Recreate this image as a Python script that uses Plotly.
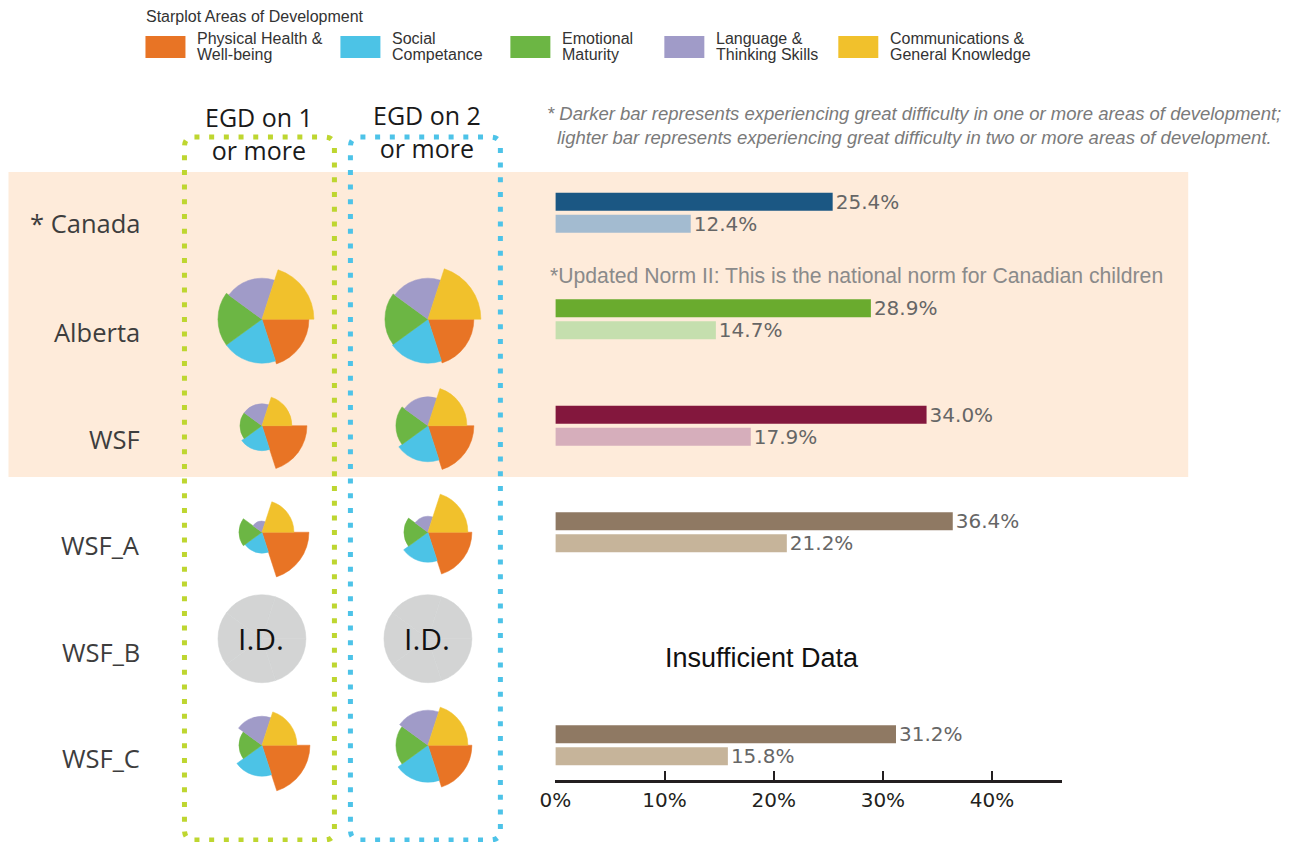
import plotly.graph_objects as go

OFF = 8
W, H = 1303 - 2 * OFF, 850 - 2 * OFF
# empirical horizontal correction of the rendered page
XA, XS = 15.6, 0.9878

# ---------------- data ----------------
rows = ["Canada", "Alberta", "WSF", "WSF_A", "WSF_B", "WSF_C"]
row_labels = ["* Canada", "Alberta", "WSF", "WSF_A", "WSF_B", "WSF_C"]
egd1_pct = [25.4, 28.9, 34.0, 36.4, None, 31.2]
egd2_pct = [12.4, 14.7, 17.9, 21.2, None, 15.8]
dark_colors = ["#1B5783", "#6AAB2E", "#83173D", "#8F7963", "#8F7963", "#8F7963"]
light_colors = ["#A3BBD0", "#C5DFAE", "#D6AEBB", "#C6B49A", "#C6B49A", "#C6B49A"]

areas = ["Physical Health & Well-being", "Social Competance", "Emotional Maturity",
         "Language & Thinking Skills", "Communications & General Knowledge"]
area_lines = [("Physical Health &", "Well-being"), ("Social", "Competance"), ("Emotional", "Maturity"),
              ("Language &", "Thinking Skills"), ("Communications &", "General Knowledge")]
area_colors = ["#E87425", "#4CC3E6", "#6CB644", "#A09BC8", "#F1C12C"]

star_regions = ["Alberta", "WSF", "WSF_A", "WSF_B", "WSF_C"]
star_egd1 = [[47, 44, 44, 41, 52],
             [45, 25, 22, 22, 30],
             [47, 21, 23, 11, 32],
             None,
             [48, 31, 23, 29, 35]]
star_egd2 = [[46, 44, 43, 41, 53],
             [46, 36, 32, 29, 39],
             [44, 30, 24, 16, 40],
             None,
             [44, 37, 32, 35, 40]]
id_radius = 44
x_ticks = [0, 10, 20, 30, 40]
x_tick_labels = ["0%", "10%", "20%", "30%", "40%"]

def px(x):
    return ((x - XA) / XS - OFF) / W

def py(y):
    return 1 - (y - OFF) / H

AX_LEFT, AX_RIGHT = 555, 1062
AX_TOP, AX_BOTTOM = 180, 780
ROW0, STEP = 212.7, 106.5
y_top = -(ROW0 - AX_TOP) / STEP
y_bot = (AX_BOTTOM - ROW0) / STEP
x_max = (AX_RIGHT - AX_LEFT) / 10.92

def row_y(i):
    return ROW0 + i * STEP

fig = go.Figure()

for vals, cols, nm in [(egd1_pct, dark_colors, "EGD on 1 or more"), (egd2_pct, light_colors, "EGD on 2 or more")]:
    fig.add_trace(go.Bar(
        y=rows, x=vals, orientation="h", name=nm,
        marker=dict(color=cols, line=dict(width=0)),
        texttemplate="%{x:.1f}%", textposition="outside", constraintext="none",
        cliponaxis=False,
        textfont=dict(family="DejaVu Sans", size=20, color="#666666"),
        showlegend=False, hoverinfo="skip"))

layout_polars = {}
BOX = 56
col_x = [261.5, 427.5]
pidx = 0
for ri, region in enumerate(star_regions):
    i = rows.index(region)
    cy = row_y(i)
    for ci, star in enumerate([star_egd1[ri], star_egd2[ri]]):
        pidx += 1
        key = "polar" if pidx == 1 else f"polar{pidx}"
        cx = col_x[ci]
        if star is None:
            r = [id_radius] * len(areas)
            cols = ["#D3D4D4"] * len(areas)
        else:
            r = star
            cols = area_colors
        fig.add_trace(go.Barpolar(
            r=r, theta=areas, subplot=key,
            marker=dict(color=cols, line=dict(color=cols, width=0.5)),
            showlegend=False, hoverinfo="skip"))
        layout_polars[key] = dict(
            domain=dict(x=[px(cx - BOX), px(cx + BOX)], y=[py(cy + BOX), py(cy - BOX)]),
            bgcolor="rgba(0,0,0,0)",
            radialaxis=dict(range=[0, BOX], visible=False),
            angularaxis=dict(type="category", categoryarray=areas, direction="clockwise",
                             rotation=-36, visible=False),
            bargap=0, barmode="overlay")

shapes = []
shapes.append(dict(type="rect", xref="paper", yref="paper", x0=px(8), x1=px(1188),
                   y0=py(477), y1=py(172), fillcolor="#FEEBDA", line=dict(width=0),
                   layer="below"))

def rounded(x0, y0, x1, y1, rr):
    def P(x, y):
        return f"{px(x):.5f},{py(y):.5f}"
    return (f"M {P(x0 + rr, y0)} L {P(x1 - rr, y0)} Q {P(x1, y0)} {P(x1, y0 + rr)} "
            f"L {P(x1, y1 - rr)} Q {P(x1, y1)} {P(x1 - rr, y1)} L {P(x0 + rr, y1)} "
            f"Q {P(x0, y1)} {P(x0, y1 - rr)} L {P(x0, y0 + rr)} Q {P(x0, y0)} {P(x0 + rr, y0)} Z")

shapes.append(dict(type="path", xref="paper", yref="paper", path=rounded(184, 137, 334, 840, 10),
                   line=dict(color="#BED630", width=5, dash="5px,9.7px"), layer="above"))
shapes.append(dict(type="path", xref="paper", yref="paper", path=rounded(350, 137, 500, 840, 10),
                   line=dict(color="#4DC3E8", width=5, dash="5px,9.7px"), layer="above"))

annotations = []
annotations.append(dict(x=px(144), y=py(16), xref="paper", yref="paper", xanchor="left", yanchor="middle",
                        text="Starplot Areas of Development", showarrow=False,
                        font=dict(family="Liberation Sans", size=16, color="#333333")))
leg_x = [145, 340, 510, 664, 838]
for lx, lines, col in zip(leg_x, area_lines, area_colors):
    shapes.append(dict(type="rect", xref="paper", yref="paper", x0=px(lx), x1=px(lx + 40),
                       y0=py(58), y1=py(36), fillcolor=col, line=dict(width=0)))
    for ly, t in zip([38, 55], lines):
        annotations.append(dict(x=px(lx + 50), y=py(ly), xref="paper", yref="paper", xanchor="left",
                                yanchor="middle", align="left", text=t, showarrow=False,
                                font=dict(family="Liberation Sans", size=16, color="#333333")))

for cx, cy in [(259, 134), (427, 132)]:
    annotations.append(dict(x=px(cx), y=py(cy), xref="paper", yref="paper",
                            xanchor="center", yanchor="middle",
                            text=("EGD on 1" if cx < 300 else "EGD on 2") + "<br>or more", showarrow=False,
                            font=dict(family="Open Sans", size=25, color="#1a1a1a")))

for rname, lab in zip(rows, row_labels):
    annotations.append(dict(x=px(142), y=rname, xref="paper", yref="y",
                            yshift=-13 if rname != "Canada" else -10,
                            xanchor="right", yanchor="middle", text=lab, showarrow=False,
                            font=dict(family="Open Sans", size=25.5, color="#3d3d3d")))

for cx in col_x:
    annotations.append(dict(x=px(cx - 1), y=py(row_y(rows.index("WSF_B"))), xref="paper", yref="paper",
                            xanchor="center", yanchor="middle", text="I.D.", showarrow=False,
                            font=dict(family="Open Sans", size=30, color="#111111")))

annotations.append(dict(x=px(545), y=py(114), xref="paper", yref="paper", xanchor="left", yanchor="middle",
                        text="<i>* Darker bar represents experiencing great difficulty in one or more areas of development;</i>",
                        showarrow=False, font=dict(family="Liberation Sans", size=18.5, color="#7a7a7a")))
annotations.append(dict(x=px(555), y=py(137), xref="paper", yref="paper", xanchor="left", yanchor="middle",
                        text="<i>lighter bar represents experiencing great difficulty in two or more areas of development.</i>",
                        showarrow=False, font=dict(family="Liberation Sans", size=18.5, color="#7a7a7a")))
annotations.append(dict(x=px(548), y=py(276), xref="paper", yref="paper", xanchor="left", yanchor="middle",
                        text="*Updated Norm II: This is the national norm for Canadian children",
                        showarrow=False, font=dict(family="Liberation Sans", size=21.2, color="#8a8a8a")))
annotations.append(dict(x=px(762), y="WSF_B", xref="paper", yref="y", yshift=-19, xanchor="center",
                        yanchor="middle", text="Insufficient Data", showarrow=False,
                        font=dict(family="Liberation Sans", size=27, color="#111111")))

fig.update_layout(
    width=W, height=H, autosize=False,
    margin=dict(l=0, r=0, t=0, b=0),
    paper_bgcolor="white", plot_bgcolor="rgba(0,0,0,0)",
    barmode="group", bargap=1 - 44 / STEP, bargroupgap=4 / 22,
    xaxis=dict(domain=[px(AX_LEFT), px(AX_RIGHT)], range=[0, x_max], tickmode="array",
               tickvals=x_ticks, ticktext=x_tick_labels,
               showgrid=False, zeroline=False, showline=True, linecolor="#231F20",
               linewidth=3, ticks="inside", ticklen=9, tickwidth=2, tickcolor="#231F20",
               tickfont=dict(family="DejaVu Sans", size=20, color="#231F20"), fixedrange=True),
    yaxis=dict(domain=[py(AX_BOTTOM), py(AX_TOP)], range=[y_bot, y_top], type="category",
               categoryarray=rows, showticklabels=False, showgrid=False, zeroline=False,
               showline=False, ticks="", fixedrange=True),
    shapes=shapes, annotations=annotations,
    **layout_polars)

fig.write_html("out.html")
